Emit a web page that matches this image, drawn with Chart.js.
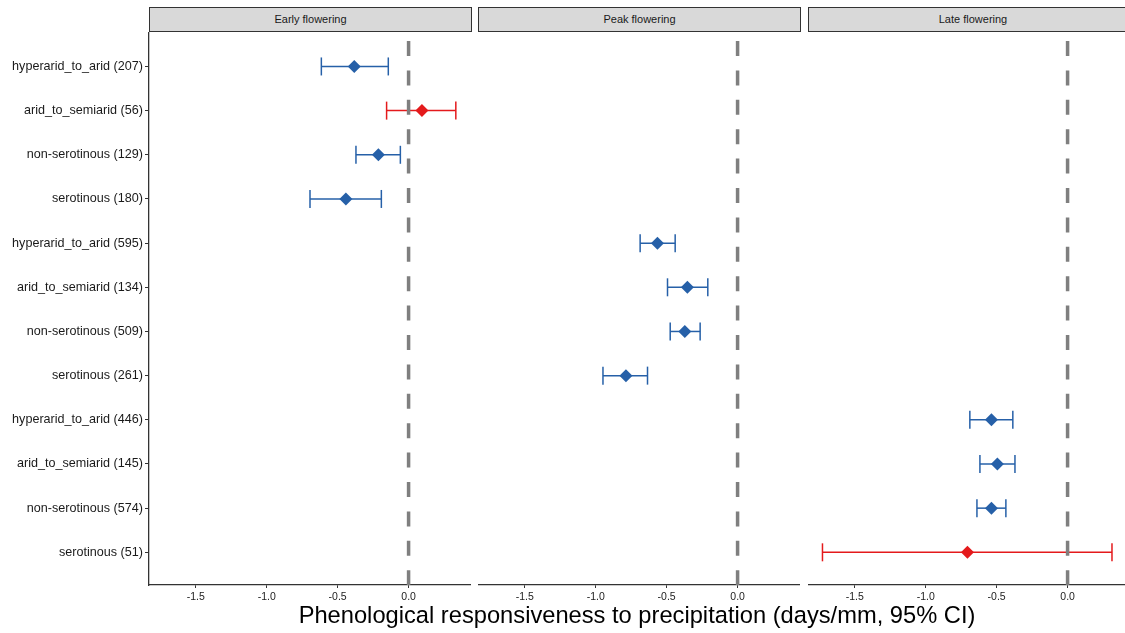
<!DOCTYPE html>
<html>
<head>
<meta charset="utf-8">
<script src="https://cdn.jsdelivr.net/npm/chart.js@4.4.1/dist/chart.umd.min.js"></script>
<style>
  html, body { margin: 0; padding: 0; background: #fff; overflow: hidden; }
  #wrap { position: relative; width: 1125px; height: 633px; overflow: hidden; font-family: "Liberation Sans", Arial, sans-serif; }
  canvas { position: absolute; top: 32px; }
  .strip {
    position: absolute; top: 7px; height: 25px; box-sizing: border-box;
    background: #d9d9d9; border: 1.3px solid #333;
    font-size: 11px; color: #1a1a1a; text-align: center; line-height: 23px;
  }
  #xtitle {
    position: absolute; left: 149px; width: 976px; top: 602px;
    text-align: center; font-size: 23.7px; color: #000;
  }
</style>
</head>
<body>
<div id="wrap">
  <div class="strip" id="s0" style="left:149px;width:323px"></div>
  <div class="strip" id="s1" style="left:478px;width:323px"></div>
  <div class="strip" id="s2" style="left:808px;width:330px"></div>
  <canvas id="c0" width="471" height="601" style="left:0px"></canvas>
  <canvas id="c1" width="322" height="601" style="left:478px"></canvas>
  <canvas id="c2" width="322" height="601" style="left:808px"></canvas>
  <div id="xtitle">Phenological responsiveness to precipitation (days/mm, 95% CI)</div>
</div>
<script>
const rowLabels = [
  "hyperarid_to_arid (207)", "arid_to_semiarid (56)", "non-serotinous (129)", "serotinous (180)",
  "hyperarid_to_arid (595)", "arid_to_semiarid (134)", "non-serotinous (509)", "serotinous (261)",
  "hyperarid_to_arid (446)", "arid_to_semiarid (145)", "non-serotinous (574)", "serotinous (51)"
]
const panelTitles = ["Early flowering", "Peak flowering", "Late flowering"]
const xTicks = [-1.5, -1.0, -0.5, 0.0]

// estimate and 95% CI for each group, per flowering stage
const earlyEst = [-0.383, 0.094, -0.213, -0.442]
const earlyLow = [-0.615, -0.155, -0.371, -0.695]
const earlyHigh = [-0.143, 0.333, -0.058, -0.192]

const peakEst = [-0.565, -0.354, -0.372, -0.787]
const peakLow = [-0.687, -0.494, -0.475, -0.949]
const peakHigh = [-0.440, -0.210, -0.264, -0.635]

const lateEst = [-0.537, -0.495, -0.537, -0.706]
const lateLow = [-0.689, -0.618, -0.639, -1.728]
const lateHigh = [-0.386, -0.371, -0.435, 0.313]

const panels = [
  { est: earlyEst, low: earlyLow, high: earlyHigh },
  { est: peakEst, low: peakLow, high: peakHigh },
  { est: lateEst, low: lateLow, high: lateHigh }
]

const BLUE = "#2660a8"
const RED = "#e41a1c"
const Y_MIN = 0.22
const Y_MAX = 12.74

// chart.js pads the chart area for half a tick label; the facets need exact edges
function noPadding(axis) {
  axis.paddingTop = 0
  axis.paddingBottom = 0
  axis.paddingLeft = 0
  axis.paddingRight = 0
}

function makeChart(canvasId, panelIndex) {
  const p = panels[panelIndex]
  const first = panelIndex === 0
  const colors = p.est.map((_, i) => (p.low[i] < 0 && p.high[i] > 0) ? RED : BLUE)

  const datasets = []

  // diamonds on top
  datasets.push({
    data: p.est.map((v, i) => ({ x: v, y: panelIndex * 4 + i + 1 })),
    pointStyle: "rectRot",
    pointRadius: 6.5,
    pointBackgroundColor: colors,
    pointBorderColor: colors,
    pointBorderWidth: 0,
    showLine: false
  })

  // zero reference line
  datasets.push({
    data: [{ x: 0, y: Y_MIN }, { x: 0, y: Y_MAX }],
    showLine: true,
    borderColor: "#7f7f7f",
    borderWidth: 3.5,
    borderDash: [15, 14.4],
    borderDashOffset: 20.4,
    pointRadius: 0
  })

  // error bars with caps
  p.est.forEach((v, i) => {
    const row = panelIndex * 4 + i + 1
    datasets.push({
      data: [{ x: p.low[i], y: row }, { x: p.high[i], y: row }],
      showLine: true,
      borderColor: colors[i],
      borderWidth: 1.5,
      pointStyle: "line",
      rotation: 90,
      pointRadius: 9,
      pointBorderColor: colors[i],
      pointBorderWidth: 1.5
    })
  })

  return new Chart(document.getElementById(canvasId), {
    type: "scatter",
    data: { datasets: datasets },
    options: {
      responsive: false,
      animation: false,
      layout: { padding: 0, autoPadding: false },
      plugins: { legend: { display: false }, tooltip: { enabled: false } },
      scales: {
        x: {
          type: "linear",
          min: -1.83,
          max: 0.44,
          afterBuildTicks: (axis) => { axis.ticks = xTicks.map(v => ({ value: v })) },
          afterFit: (axis) => { axis.height = 48; noPadding(axis) },
          ticks: {
            font: { size: 10.5, family: "'Liberation Sans', Arial, sans-serif" },
            color: "#222",
            padding: 3,
            maxRotation: 0,
            callback: (value) => value.toFixed(1)
          },
          grid: { drawOnChartArea: false, tickLength: 3, color: "#333", lineWidth: 1 },
          border: { display: true, color: "#333", width: 1.3 }
        },
        y: {
          type: "linear",
          reverse: true,
          min: Y_MIN,
          max: Y_MAX,
          display: first,
          afterBuildTicks: (axis) => { axis.ticks = rowLabels.map((_, i) => ({ value: i + 1 })) },
          afterFit: (axis) => {
            axis.width = first ? 149 : 0
            noPadding(axis)
          },
          ticks: {
            font: { size: 12.6, family: "'Liberation Sans', Arial, sans-serif" },
            color: "#1a1a1a",
            padding: 2,
            callback: (value) => rowLabels[Math.round(value) - 1]
          },
          grid: { drawOnChartArea: false, tickLength: 4, color: "#333", lineWidth: 1 },
          border: { display: true, color: "#333", width: 1.3 }
        }
      }
    }
  })
}

panelTitles.forEach((t, i) => { document.getElementById("s" + i).textContent = t })
makeChart("c0", 0)
makeChart("c1", 1)
makeChart("c2", 2)
</script>
</body>
</html>
